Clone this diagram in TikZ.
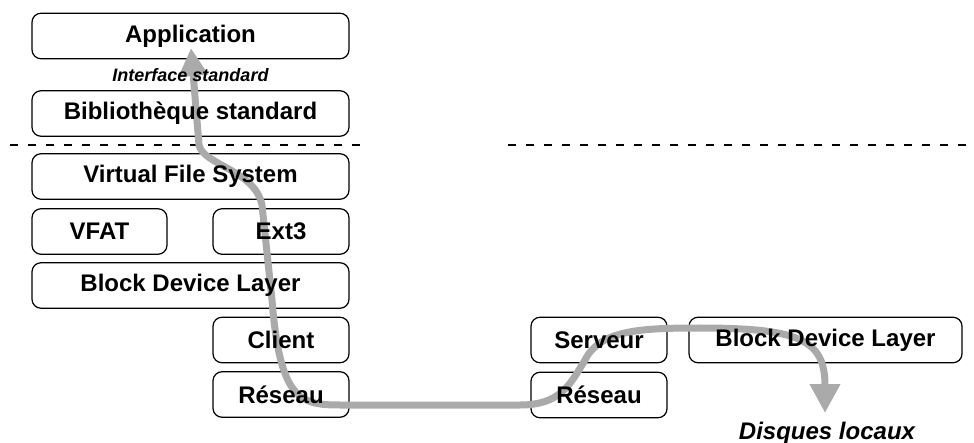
\documentclass[tikz,border=0pt]{standalone}
\usepackage{fontspec}
\setmainfont{Liberation Sans}
\usetikzlibrary{arrows.meta}
\definecolor{flowgray}{RGB}{170,170,170}
\tikzset{
  box/.style={draw=black, line width=1.2pt, rounded corners=9pt, minimum height=45.5pt, inner sep=0pt},
  lbl/.style={font=\fontsize{24}{28}\selectfont\bfseries, inner sep=0pt, text=black},
  ilbl/.style={font=\fontsize{18}{22}\selectfont\bfseries\itshape, inner sep=0pt, text=black},
  bigital/.style={font=\fontsize{24}{28}\selectfont\bfseries\itshape, inner sep=0pt, text=black},
  sep/.style={line width=1.3pt, dash pattern=on 8pt off 10pt},
  flow/.style={draw=flowgray, line width=7pt, {Triangle[width=28pt,length=28pt]}-{Triangle[width=29pt,length=29pt]}}
}
\begin{document}
\begin{tikzpicture}[x=1pt,y=-1pt]
\useasboundingbox (0,0) rectangle (974,443);
% boxes
\node[box, minimum width=317pt] (app) at (190.5,36) {};
\node[box, minimum width=317pt] (bib) at (190.5,113.5) {};
\node[box, minimum width=317pt] (vfs) at (190.5,176.5) {};
\node[box, minimum width=135pt] (vfat) at (99.5,231.5) {};
\node[box, minimum width=136pt] (ext) at (281,231.5) {};
\node[box, minimum width=317pt] (bdl) at (190.5,285.5) {};
\node[box, minimum width=136pt] (client) at (281,340) {};
\node[box, minimum width=136pt] (res1) at (281,394.5) {};
\node[box, minimum width=136pt] (serv) at (599,340) {};
\node[box, minimum width=136pt] (res2) at (599,395) {};
\node[box, minimum width=273pt] (bdl2) at (825.5,340) {};
% separators
\draw[sep] (10,145) -- (363,145);
\draw[sep] (508,145) -- (974,145);
% flow
\coordinate (tipTop) at (191,48);
\coordinate (tipEnd) at (825,413);
\draw[flow] (tipTop) -- (199,145) .. controls (203,165) and (255,170) .. (262,205)
  -- (272,300) .. controls (280,400) and (300,405) .. (340,405)
  -- (520,405) .. controls (560,405) and (570,385) .. (585,360)
  .. controls (600,330) and (640,328) .. (700,328)
  .. controls (800,328) and (825,340) .. (tipEnd);
% labels
\node[lbl] at (app) {Application};
\node[ilbl, anchor=base] (iface) at (190.5,82) {Interface standard};
\node[lbl] at (bib) {Bibliothèque standard};
\node[lbl] at (vfs) {Virtual File System};
\node[lbl] at (vfat) {VFAT};
\node[lbl] at (ext) {Ext3};
\node[lbl] at (bdl) {Block Device Layer};
\node[lbl] at (client) {Client};
\node[lbl] at (res1) {Réseau};
\node[lbl] at (serv) {Serveur};
\node[lbl] at (res2) {Réseau};
\node[lbl] at (bdl2) {Block Device Layer};
\node[bigital, anchor=base] (disques) at (827,439) {Disques locaux};
\end{tikzpicture}
\end{document}
